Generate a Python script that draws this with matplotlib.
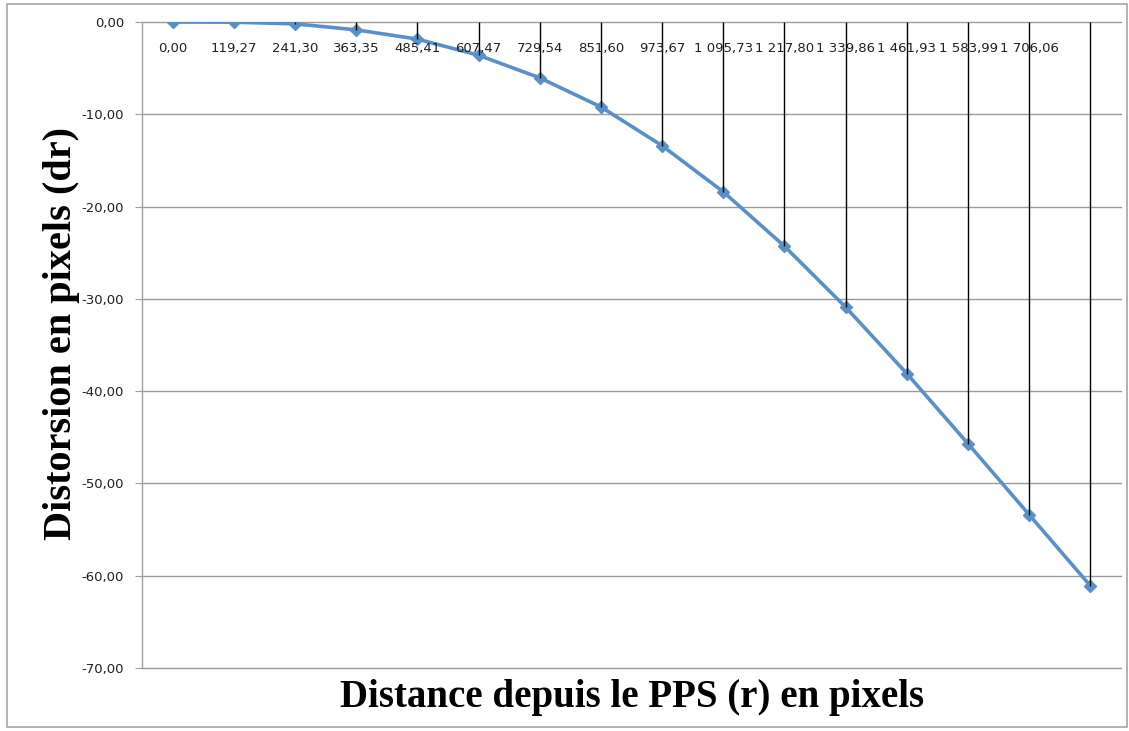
import matplotlib
matplotlib.use("Agg")
import matplotlib.pyplot as plt
from matplotlib.patches import Rectangle
import numpy as np

# Data
categories = ["0,00", "119,27", "241,30", "363,35", "485,41", "607,47", "729,54",
              "851,60", "973,67", "1 095,73", "1 217,80", "1 339,86", "1 461,93",
              "1 583,99", "1 706,06", ""]
distortion = [0.0, -0.02, -0.2, -0.85, -1.85, -3.6, -6.05, -9.2, -13.4, -18.4,
              -24.3, -30.9, -38.1, -45.7, -53.4, -61.1]
y_ticks = [0, -10, -20, -30, -40, -50, -60, -70]
y_ticklabels = ["0,00", "-10,00", "-20,00", "-30,00", "-40,00", "-50,00", "-60,00", "-70,00"]

W, H = 1129, 731
fig = plt.figure(figsize=(W / 100, H / 100), dpi=100)
fig.patch.set_facecolor("white")

# outer chart border
fig.add_artist(Rectangle((7 / W, 4 / H), (1127 - 7) / W, (727 - 4) / H,
                         transform=fig.transFigure, fill=False,
                         edgecolor="#a6a6a6", linewidth=1.2))

left, right, top, bottom = 142, 1121, 22, 668
ax = fig.add_axes([left / W, 1 - bottom / H, (right - left) / W, (bottom - top) / H])

n = len(categories)
x = np.arange(n)
ax.set_xlim(-0.5, n - 0.5)
ax.set_ylim(-70, 0)

for s in ["top", "right", "bottom"]:
    ax.spines[s].set_visible(False)
ax.spines["left"].set_color("#a0a0a0")
ax.spines["left"].set_linewidth(1.0)

ax.set_yticks(y_ticks)
ax.set_yticklabels(y_ticklabels, fontsize=9.5, color="#202020", family="DejaVu Sans")
ax.tick_params(axis="y", length=5, color="#a0a0a0", pad=8)
ax.set_xticks([])

# gridlines
for yv in y_ticks:
    ax.axhline(yv, color="#9a9a9a", linewidth=1.0, zorder=1, clip_on=False)

# drop lines from axis (y=0) to point
ax.vlines(x, distortion, 0, colors="black", linewidth=1.0, zorder=4)

ax.plot(x, distortion, color="#5b8fc8", linewidth=2.6, marker="D", markersize=6.5,
        markerfacecolor="#5b8fc8", markeredgecolor="#5b8fc8", zorder=3)

# category labels just below the axis at top
for xi, lab in zip(x, categories):
    ax.annotate(lab, (xi, 0), xytext=(0, -19), textcoords="offset points",
                ha="center", va="center", fontsize=9.5, color="#202020",
                family="DejaVu Sans", zorder=5)

fig.text(632 / W, 1 - 697 / H, "Distance depuis le PPS (r) en pixels",
         ha="center", va="center", fontsize=28, fontweight="bold",
         family="Liberation Serif")
fig.text(62 / W, 1 - 333 / H, "Distorsion en pixels (dr)",
         ha="center", va="center", rotation=90, fontsize=29, fontweight="bold",
         family="Liberation Serif")

fig.savefig("out.png", dpi=100)
